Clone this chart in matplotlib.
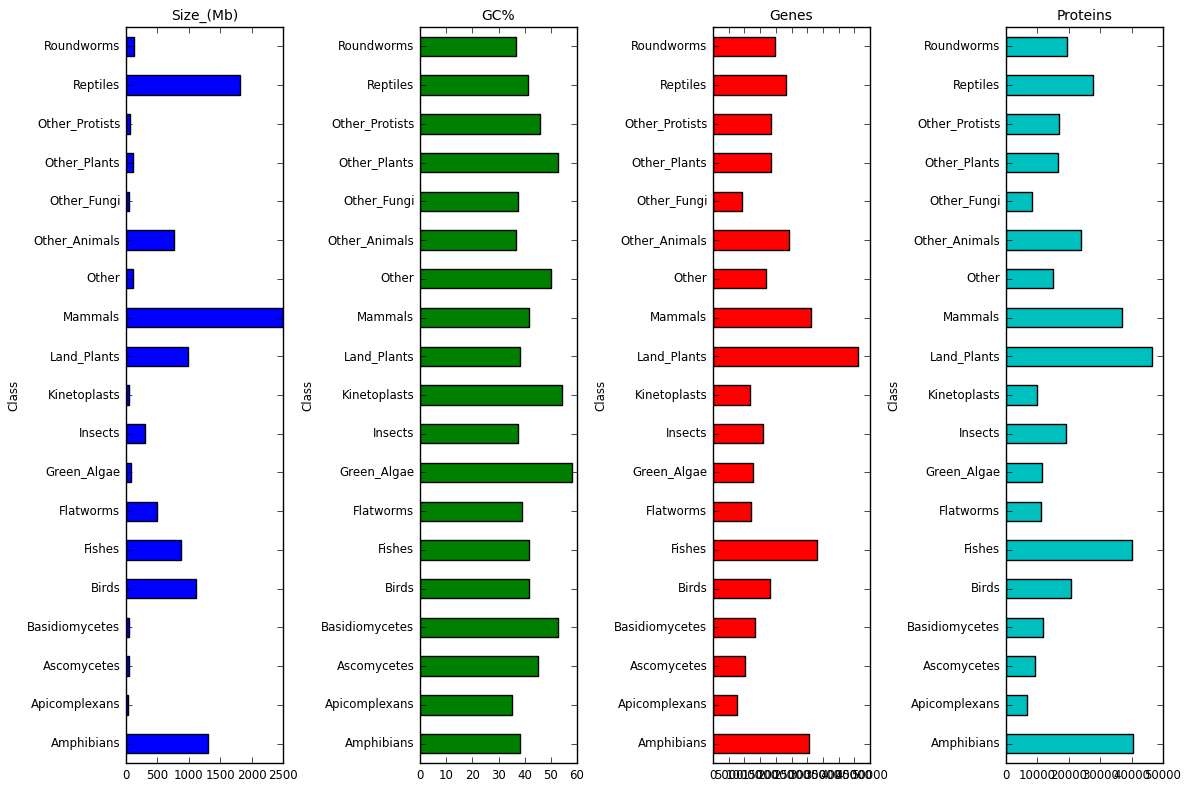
import matplotlib
matplotlib.use("Agg")
import matplotlib.pyplot as plt
import numpy as np

plt.style.use('classic')

classes = ["Amphibians", "Apicomplexans", "Ascomycetes", "Basidiomycetes", "Birds", "Fishes",
           "Flatworms", "Green_Algae", "Insects", "Kinetoplasts", "Land_Plants", "Mammals",
           "Other", "Other_Animals", "Other_Fungi", "Other_Plants", "Other_Protists",
           "Reptiles", "Roundworms"]
size_mb = [1300, 30, 40, 40, 1110, 875, 490, 80, 300, 40, 990, 2500, 110, 760, 40, 110, 60, 1815, 130]
gc = [38.2, 35.2, 45.0, 52.7, 41.7, 41.7, 39.0, 58.0, 37.4, 54.3, 38.2, 41.7, 50.0, 36.7, 37.4, 52.7, 45.9, 41.3, 36.7]
genes = [30600, 7600, 10200, 13400, 18200, 33100, 12100, 12700, 15900, 11800, 46200, 31200, 16900,
         24200, 9200, 18500, 18500, 23200, 19700]
proteins = [40400, 6700, 9200, 11800, 20700, 40100, 11100, 11500, 19100, 9900, 46500, 36900, 15000,
            23900, 8300, 16600, 16900, 27700, 19400]

panels = [("Size_(Mb)", size_mb, 'b', (0, 2500), np.arange(0, 2501, 500)),
          ("GC%", gc, 'g', (0, 60), np.arange(0, 61, 10)),
          ("Genes", genes, 'r', (0, 50000), np.arange(0, 50001, 5000)),
          ("Proteins", proteins, 'c', (0, 50000), np.arange(0, 50001, 10000))]

fig = plt.figure(figsize=(12, 8.01), dpi=100, facecolor='white')
lefts = [126, 420, 713, 1006]
y = np.arange(len(classes))
for (title, vals, col, xl, ticks), l in zip(panels, lefts):
    ax = fig.add_axes([l/1200, 38/801, 157/1200, (801-38-27)/801])
    ax.barh(y, vals, height=0.5, color=col, edgecolor='k', align='center')
    ax.set_xlim(*xl)
    ax.set_xticks(ticks)
    ax.set_ylim(-0.5, len(classes)-0.5)
    ax.set_yticks(y)
    ax.set_yticklabels(classes, fontsize=8.5)
    ax.tick_params(axis='x', labelsize=8.5)
    ax.set_ylabel("Class", fontsize=8.5)
    ax.set_title(title, fontsize=10)

fig.savefig("out.png", dpi=100, facecolor='white')
